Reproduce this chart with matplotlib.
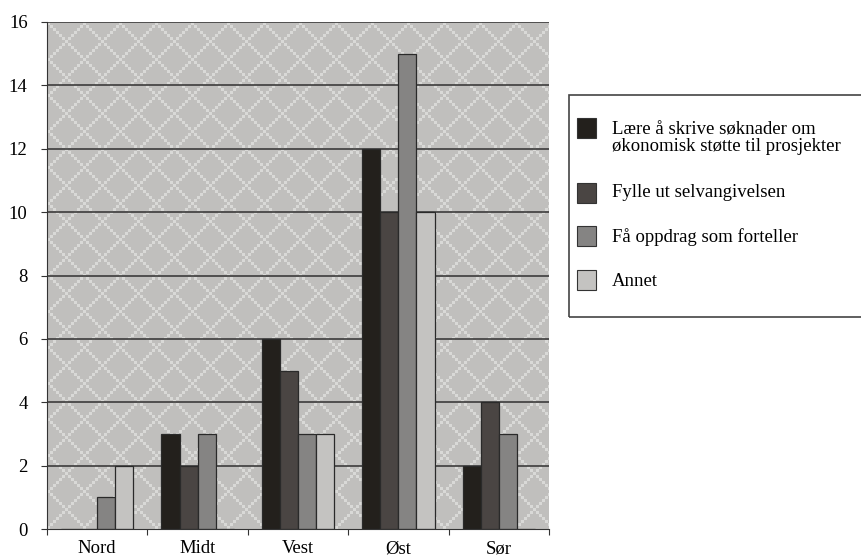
"""
Grouped bar chart: kurs-ønsker per region.
"""
import numpy as np
import matplotlib.pyplot as plt
from matplotlib.patches import Rectangle

regions = ['Nord', 'Midt', 'Vest', 'Øst', 'Sør']
series_names = ['Lære å skrive søknader om\nøkonomisk støtte til prosjekter',
                'Fylle ut selvangivelsen',
                'Få oppdrag som forteller',
                'Annet']
soknader = [0, 3, 6, 12, 2]
selvangivelse = [0, 2, 5, 10, 4]
oppdrag = [1, 3, 3, 15, 3]
annet = [2, 0, 3, 10, 0]
colors = ['#23201c', '#4a4543', '#858483', '#c4c3c1']

plt.rcParams['font.family'] = ['Liberation Serif', 'DejaVu Serif']

W, H = 862, 559
fig = plt.figure(figsize=(W / 100, H / 100), dpi=100)
ax_l, ax_r, ax_t, ax_b = 47, 549, 22, 529
ax = fig.add_axes([ax_l / W, 1 - ax_b / H, (ax_r - ax_l) / W, (ax_b - ax_t) / H])

# diamond lattice background
pw, ph = ax_r - ax_l, ax_b - ax_t
yy, xx = np.mgrid[0:ph, 0:pw]
bx, by = xx // 3, yy // 3
P = 12
light = ((bx + by) % P == 0) | ((bx - by) % P == 0)
img = np.where(light[..., None], np.array([217, 217, 215]), np.array([192, 191, 189])) / 255.0
ax.imshow(img, extent=[-0.5, 4.5, 0, 16], aspect='auto', interpolation='nearest', zorder=0)

ax.set_xlim(-0.5, 4.5)
ax.set_ylim(0, 16)
for yv in range(2, 17, 2):
    ax.axhline(yv, color='#3c3c3c', lw=1.2, zorder=1)

data = [soknader, selvangivelse, oppdrag, annet]
x = np.arange(len(regions))
bw = 0.18
for i, vals in enumerate(data):
    ax.bar(x + (i - 1.5) * bw, vals, bw, color=colors[i], edgecolor='#2a2a2a',
           linewidth=0.9, zorder=2)

for s in ['top', 'right']:
    ax.spines[s].set_visible(False)
ax.spines['left'].set_color('#333333')
ax.spines['bottom'].set_color('#333333')
ax.spines['left'].set_zorder(3)
ax.spines['bottom'].set_zorder(3)

ax.set_yticks(range(0, 17, 2))
ax.tick_params(axis='y', length=4, pad=10, labelsize=13.5, color='#333333')
ax.set_xticks(np.arange(-0.5, 5, 1))
ax.set_xticklabels([])
ax.tick_params(axis='x', which='major', length=4, color='#333333')
ax.set_xticks(x, minor=True)
ax.set_xticklabels(regions, minor=True, fontsize=13.5)
ax.tick_params(axis='x', which='minor', length=0, pad=8)

# legend box
fig.patches.append(Rectangle((569 / W, 1 - 317 / H), 320 / W, (317 - 95) / H,
                             transform=fig.transFigure, fill=False,
                             edgecolor='#444444', lw=1.2))
ys = [128, 193, 236, 280]
text_y = [138, 193, 237, 282]
for i, name in enumerate(series_names):
    fig.patches.append(Rectangle((577 / W, 1 - (ys[i] + 10) / H), 19 / W, 20 / H,
                                 transform=fig.transFigure, facecolor=colors[i],
                                 edgecolor='#333333', lw=0.8))
    fig.text(612 / W, 1 - text_y[i] / H, name, fontsize=13.5, va='center',
             ha='left', linespacing=1.0)

fig.savefig('out.png', dpi=100)
